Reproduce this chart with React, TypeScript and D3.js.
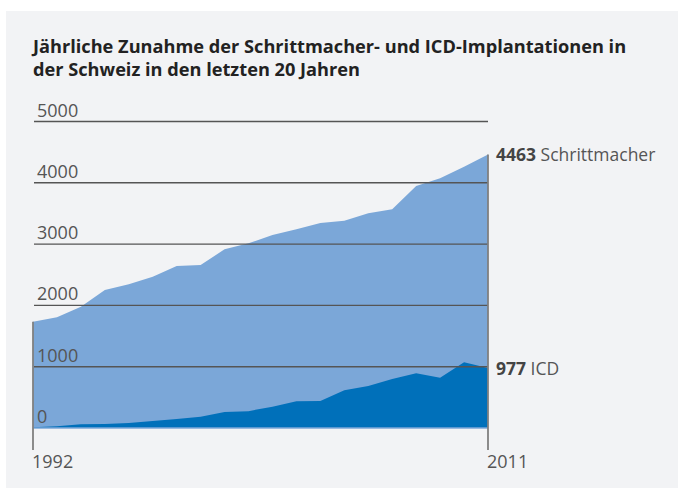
import { useRef, useEffect } from 'react'
import * as d3 from 'd3'

const years = d3.range(1992, 2012)
const schrittmacher = [1734, 1806, 1979, 2251, 2344, 2468, 2643, 2659, 2915, 3013, 3148, 3241, 3344, 3382, 3502, 3567, 3948, 4073, 4263, 4463]
const icd = [12, 30, 60, 65, 80, 115, 145, 185, 260, 275, 348, 435, 440, 615, 685, 800, 892, 820, 1071, 977]
const yTicks = [0, 1000, 2000, 3000, 4000, 5000]
const titleLines = [
  'Jährliche Zunahme der Schrittmacher- und ICD-Implantationen in',
  'der Schweiz in den letzten 20 Jahren',
]

const App = () => {
  const chartRef = useRef<SVGSVGElement>(null)

  useEffect(() => {
    drawChart()
  }, [])

  const drawChart = () => {
    const svg = d3.select(chartRef.current)
    svg.selectAll('*').remove()
    const width = 678
    const height = 488
    const font = "'Open Sans', 'Noto Sans', sans-serif"

    svg.append('rect')
      .attr('x', 6).attr('y', 11)
      .attr('width', width - 6).attr('height', height - 11)
      .attr('fill', '#f2f3f5')

    svg.append('g').selectAll('text')
      .data(titleLines)
      .enter().append('text')
      .attr('x', 33)
      .attr('y', (d, i) => 53 + i * 22.5)
      .attr('font-family', font)
      .attr('font-weight', 700)
      .attr('font-size', 18.2)
      .attr('fill', '#222')
      .text((d) => d)

    const x = d3.scaleLinear().domain([1992, 2011]).range([33, 488])
    const y = d3.scaleLinear().domain([0, 5000]).range([428, 121.5])

    const area = (vals: number[]) => d3.area<number>()
      .x((d, i) => x(years[i]))
      .y0(y(0))
      .y1((d) => y(d))(vals)

    svg.append('path')
      .attr('d', area(schrittmacher))
      .attr('fill', '#7ba7d8')

    svg.append('path')
      .attr('d', area(icd))
      .attr('fill', '#0070ba')

    // baseline
    svg.append('line')
      .attr('x1', x(1992)).attr('x2', x(2011))
      .attr('y1', y(0)).attr('y2', y(0))
      .attr('stroke', '#7ba7d8').attr('stroke-width', 1.5)

    svg.append('g').selectAll('line')
      .data(yTicks.filter((d) => d > 0))
      .enter().append('line')
      .attr('x1', x(1992) + 1).attr('x2', x(2011))
      .attr('y1', (d) => y(d)).attr('y2', (d) => y(d))
      .attr('stroke', '#555').attr('stroke-width', 1.4)

    svg.append('g').selectAll('text')
      .data(yTicks)
      .enter().append('text')
      .attr('x', 37)
      .attr('y', (d) => y(d) - 5)
      .attr('font-family', font)
      .attr('font-size', 18)
      .attr('fill', '#555')
      .text((d) => d)

    // vertical edges
    const edges = [
      { year: 1992, v: schrittmacher[0] },
      { year: 2011, v: schrittmacher[schrittmacher.length - 1] },
    ]
    svg.append('g').selectAll('line')
      .data(edges)
      .enter().append('line')
      .attr('x1', (d) => x(d.year)).attr('x2', (d) => x(d.year))
      .attr('y1', (d) => y(d.v)).attr('y2', 450)
      .attr('stroke', '#808080').attr('stroke-width', 1.8)

    svg.append('g').selectAll('text')
      .data(edges)
      .enter().append('text')
      .attr('x', (d) => x(d.year) - 1)
      .attr('y', 468)
      .attr('font-family', font)
      .attr('font-size', 18)
      .attr('fill', '#555')
      .text((d) => d.year)

    const labels = [
      { v: schrittmacher[schrittmacher.length - 1], name: 'Schrittmacher' },
      { v: icd[icd.length - 1], name: 'ICD' },
    ]
    const lab = svg.append('g').selectAll('text')
      .data(labels)
      .enter().append('text')
      .attr('x', x(2011) + 8)
      .attr('y', (d) => y(d.v) + 7)
      .attr('font-family', font)
      .attr('font-size', 17.5)
      .attr('fill', '#444')
    lab.append('tspan')
      .attr('font-weight', 700)
      .text((d) => d.v)
    lab.append('tspan')
      .attr('fill', '#555')
      .text((d) => ' ' + d.name)
  }

  return (
    <svg ref={chartRef} width={678} height={488} style={{ position: 'absolute', left: 0, top: 0 }}></svg>
  )
}

export default App
